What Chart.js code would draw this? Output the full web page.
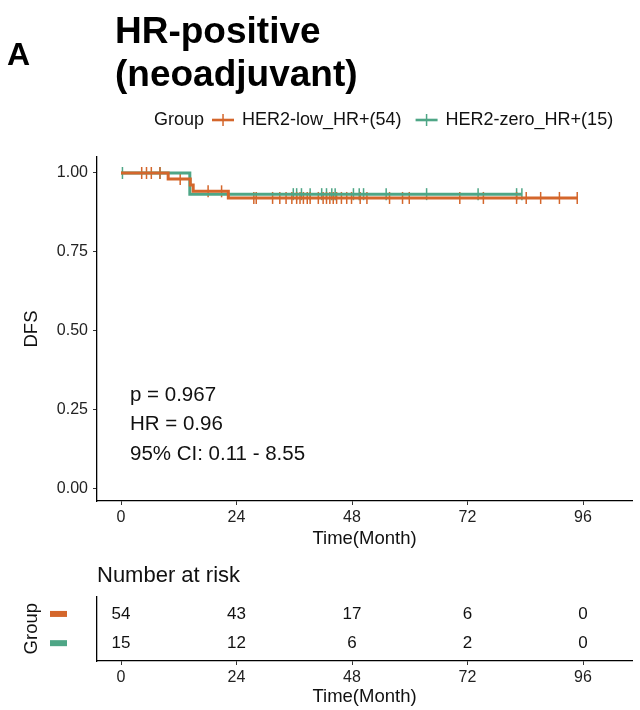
<!DOCTYPE html>
<html>
<head>
<meta charset="utf-8">
<script src="https://cdn.jsdelivr.net/npm/chart.js@4.4.1/dist/chart.umd.min.js"></script>
<style>
  html, body { margin: 0; padding: 0; background: #fff; }
  #wrap { position: relative; width: 640px; height: 710px; }
  #km { position: absolute; left: 0; top: 0; }
  #risk { position: absolute; left: 0; top: 555px; }
</style>
</head>
<body>
<div id="wrap">
  <canvas id="km" width="640" height="560"></canvas>
  <canvas id="risk" width="640" height="155"></canvas>
</div>
<script>
/* ── data ── */
const groups = ['HER2-low_HR+(54)', 'HER2-zero_HR+(15)'];
const colors = ['#D4662B', '#4EA686'];

const lowTimes = [0, 9.8, 14.4, 15.0, 22.3, 94.8];
const lowSurv  = [1, 0.981, 0.962, 0.942, 0.921, 0.921];
const zeroTimes = [0, 14.3, 83.3];
const zeroSurv  = [1, 0.933, 0.933];

const lowCensor = [4.3, 5.3, 6.3, 8.1, 12.3, 18.1, 20.9, 27.6, 28.1, 31.5, 33.0, 34.3,
  35.5, 36.5, 37.2, 37.9, 38.7, 39.3, 41.0, 42.0, 42.7, 43.4, 44.1, 44.8, 45.8, 46.9,
  47.9, 49.7, 51.1, 55.8, 58.5, 59.9, 70.4, 75.3, 82.2, 84.2, 87.2, 91.1, 94.8];
const zeroCensor = [0.3, 8.1, 35.8, 36.5, 37.5, 39.3, 41.7, 42.7, 43.8, 44.5, 48.3,
  49.5, 50.4, 55.1, 63.5, 74.2, 82.2, 83.3];

const xTicks = [0, 24, 48, 72, 96];
const yTicks = [0, 0.25, 0.5, 0.75, 1];
const riskLow  = [54, 43, 17, 6, 0];
const riskZero = [15, 12, 6, 2, 0];
const stats = ['p = 0.967', 'HR = 0.96', '95% CI: 0.11 - 8.55'];

const FONT = "'Liberation Sans', Arial, sans-serif";

// survival level at time t (for placing censor marks on the curve)
function survAt(times, surv, t) {
  let s = surv[0];
  times.forEach((tt, i) => { if (tt <= t) s = surv[i]; });
  return s;
}

const pts = (xs, ys) => xs.map((x, i) => ({ x: x, y: ys[i] }));

/* ── shared x-axis ── */
function xAxis(titlePad) {
  return {
    type: 'linear', min: -4.987, max: 106.18,
    afterBuildTicks: s => { s.ticks = xTicks.map(v => ({ value: v })); },
    ticks: { font: { family: FONT, size: 16 }, color: '#222', padding: 3, maxRotation: 0 },
    grid: { drawOnChartArea: false, drawTicks: true, tickLength: 4, color: '#333' },
    border: { display: true, color: '#000', width: 1.3 },
    title: { display: true, text: 'Time(Month)', color: '#111',
             font: { family: FONT, size: 18.5 }, padding: titlePad }
  };
}

/* ── decorations: panel tag, title, legend, stats ── */
const decor = {
  id: 'decor',
  afterDraw(chart) {
    const c = chart.ctx;
    c.save();
    c.fillStyle = '#000';
    c.textBaseline = 'alphabetic';
    c.font = 'bold 32px ' + FONT;
    c.fillText('A', 7, 65);
    c.font = 'bold 37px ' + FONT;
    c.fillText('HR-positive', 115, 43);
    c.fillText('(neoadjuvant)', 115, 86);

    // legend
    c.textBaseline = 'middle';
    c.font = '18px ' + FONT;
    c.fillStyle = '#111';
    let x = 154;
    const y = 120;
    c.fillText('Group', x, y);
    x += c.measureText('Group').width + 8;
    groups.forEach((g, i) => {
      c.strokeStyle = colors[i];
      c.lineWidth = 2.6;
      c.beginPath(); c.moveTo(x, y); c.lineTo(x + 22, y); c.stroke();
      c.lineWidth = 1.5;
      c.beginPath(); c.moveTo(x + 11, y - 6); c.lineTo(x + 11, y + 6); c.stroke();
      x += 30;
      c.fillStyle = '#111';
      c.fillText(g, x, y);
      x += c.measureText(g).width + 14;
    });

    // stats text
    c.font = '20.5px ' + FONT;
    stats.forEach((s, i) => c.fillText(s, 130, 395 + i * 29.5));
    c.restore();
  }
};

new Chart(document.getElementById('km'), {
  type: 'line',
  data: {
    datasets: [
      { data: pts(lowTimes, lowSurv), borderColor: colors[0], borderWidth: 3,
        stepped: 'before', pointRadius: 0, fill: false },
      { data: pts(zeroTimes, zeroSurv), borderColor: colors[1], borderWidth: 3,
        stepped: 'before', pointRadius: 0, fill: false },
      { type: 'scatter', data: lowCensor.map(t => ({ x: t, y: survAt(lowTimes, lowSurv, t) })),
        borderColor: colors[0], pointStyle: 'line', rotation: 90, pointRadius: 6, borderWidth: 1.5 },
      { type: 'scatter', data: zeroCensor.map(t => ({ x: t, y: survAt(zeroTimes, zeroSurv, t) })),
        borderColor: colors[1], pointStyle: 'line', rotation: 90, pointRadius: 6, borderWidth: 1.5 }
    ]
  },
  options: {
    responsive: false,
    animation: false,
    layout: { padding: { top: 157, right: 8, left: 0, bottom: 0 } },
    plugins: { legend: { display: false }, tooltip: { enabled: false } },
    scales: {
      x: Object.assign(xAxis({ top: 0, bottom: 10 }), { afterFit: s => { s.height = 59; } }),
      y: {
        min: -0.038, max: 1.0506,
        afterBuildTicks: s => { s.ticks = yTicks.map(v => ({ value: v })); },
        afterFit: s => { s.width = 97; },
        ticks: { font: { family: FONT, size: 16 }, color: '#222', padding: 5,
                 callback: v => v.toFixed(2) },
        grid: { drawOnChartArea: false, drawTicks: true, tickLength: 4, color: '#333' },
        border: { display: true, color: '#000', width: 1.3 },
        title: { display: true, text: 'DFS', color: '#111',
                 font: { family: FONT, size: 18.5 }, padding: { top: 21, bottom: 0 } }
      }
    }
  },
  plugins: [decor]
});

/* ── risk table ── */
const riskText = {
  id: 'riskText',
  afterDatasetsDraw(chart) {
    const c = chart.ctx;
    const xs = chart.scales.x, ys = chart.scales.y;
    c.save();
    c.font = '17px ' + FONT;
    c.textAlign = 'center';
    c.textBaseline = 'middle';
    [riskLow, riskZero].forEach((row, r) => {
      const y = ys.getPixelForValue(2 - r);
      c.fillStyle = '#111';
      row.forEach((n, i) => c.fillText(String(n), xs.getPixelForValue(xTicks[i]), y));
      c.fillStyle = colors[r];
      c.fillRect(50, y - 3, 17, 6);
    });
    c.restore();
  }
};

new Chart(document.getElementById('risk'), {
  type: 'scatter',
  data: {
    datasets: [
      { data: xTicks.map(t => ({ x: t, y: 2 })), pointRadius: 0 },
      { data: xTicks.map(t => ({ x: t, y: 1 })), pointRadius: 0 }
    ]
  },
  options: {
    responsive: false,
    animation: false,
    layout: { padding: { top: 0, right: 8, left: 0, bottom: 0 } },
    plugins: {
      legend: { display: false },
      tooltip: { enabled: false },
      title: { display: true, text: 'Number at risk', align: 'start', fullSize: false,
               color: '#111', font: { family: FONT, size: 22, weight: 'normal' },
               padding: { top: 8, bottom: 7 } }
    },
    scales: {
      x: Object.assign(xAxis({ top: 0, bottom: 2 }), { afterFit: s => { s.height = 49; } }),
      y: {
        min: 0.39, max: 2.6,
        afterFit: s => { s.width = 97; },
        ticks: { display: false },
        grid: { display: false },
        border: { display: true, color: '#000', width: 1.3 },
        title: { display: true, text: 'Group', color: '#111',
                 font: { family: FONT, size: 18.5 }, padding: { top: 21, bottom: 0 } }
      }
    }
  },
  plugins: [riskText]
});
</script>
</body>
</html>
